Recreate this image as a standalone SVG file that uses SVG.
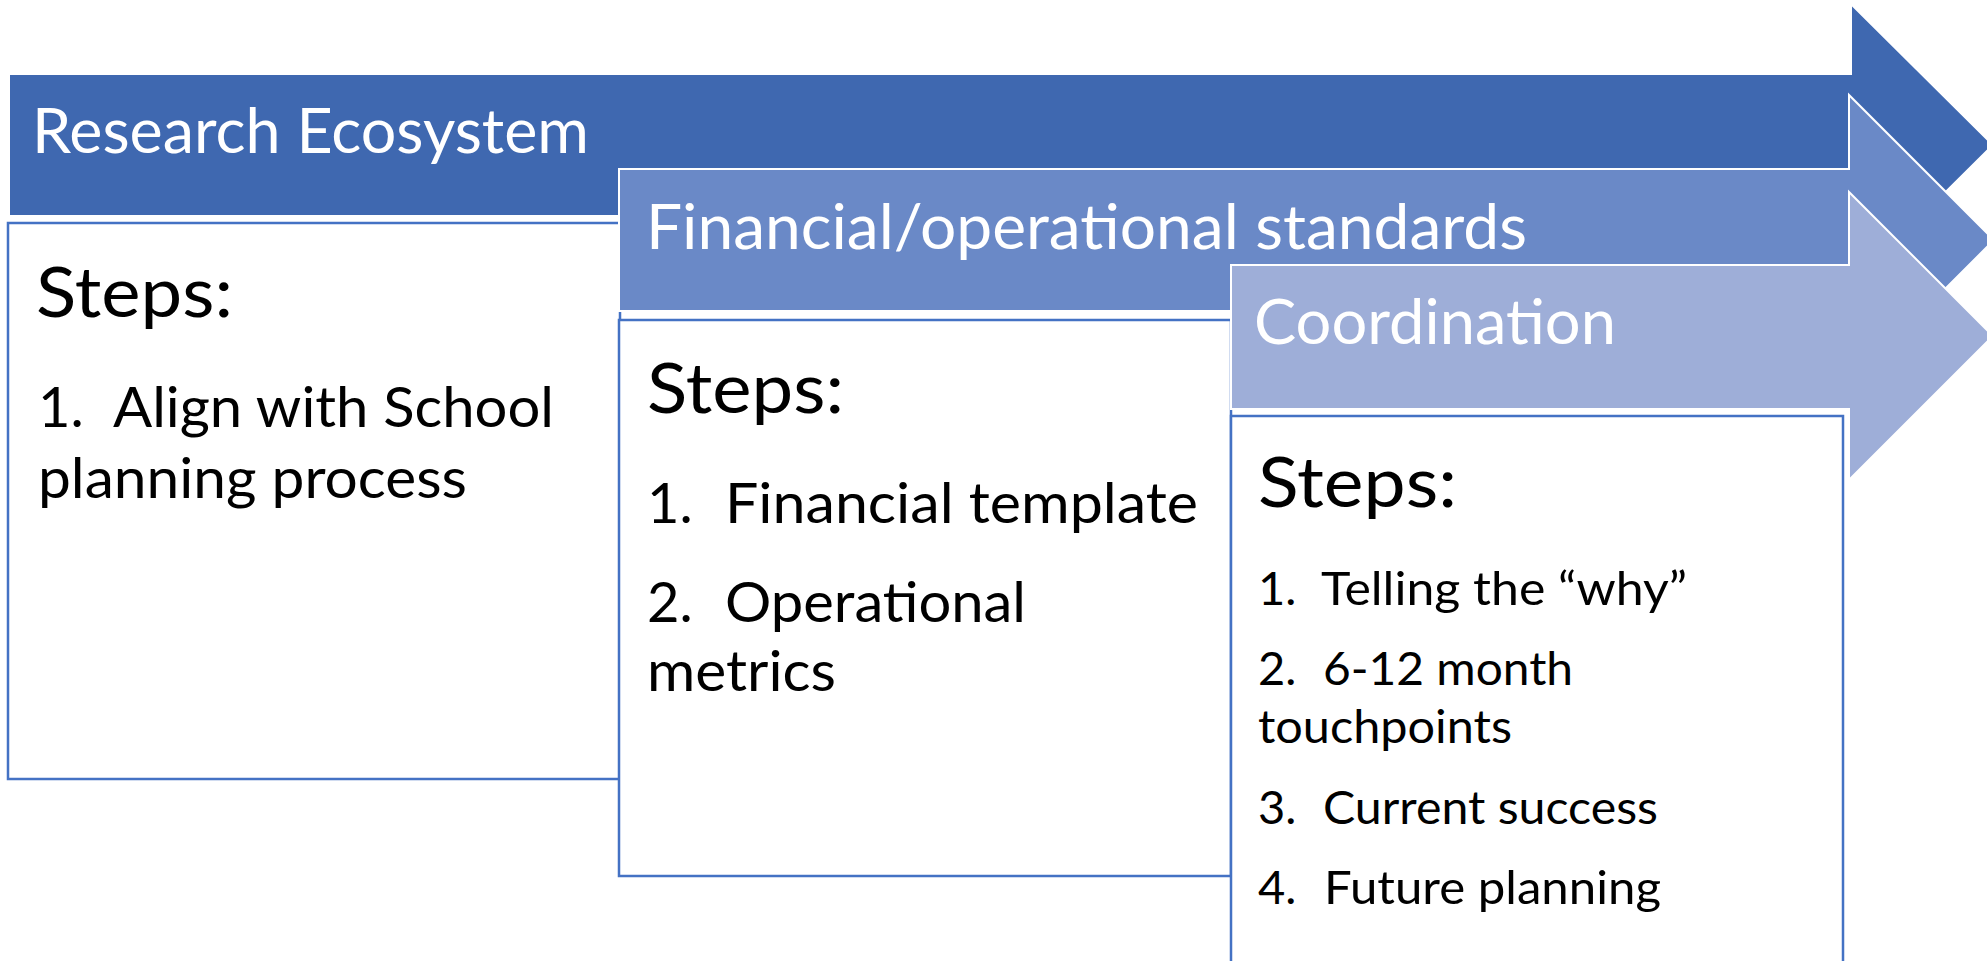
<svg xmlns="http://www.w3.org/2000/svg" width="1987" height="961" viewBox="0 0 1987 961">
<style>
.arrow{stroke:#ffffff;stroke-width:2;stroke-linejoin:miter}
.a1{fill:#3F68B0}
.a2{fill:#6A89C7}
.a3{fill:#9EAED8}
.box{fill:#ffffff;stroke:#4472C4;stroke-width:2.5}
.hdr{font-family:Lato,"Open Sans",sans-serif;fill:#ffffff;font-size:61px}
.steps{font-family:Lato,"Open Sans",sans-serif;fill:#000000;font-size:70px}
.li{font-family:Lato,"Open Sans",sans-serif;fill:#000000;font-size:56px}
.li3{font-family:Lato,"Open Sans",sans-serif;fill:#000000;font-size:47px}
</style>
<rect width="1987" height="961" fill="#ffffff"/>
<g id="node-research">
<polygon class="arrow a1" points="9,74 1851,74 1851,4 1993,145 1851,286 1851,216 9,216"/>
<text class="hdr" x="32" y="153" textLength="557" lengthAdjust="spacingAndGlyphs">Research Ecosystem</text>
</g>
<g id="node-research-steps">
<rect class="box" x="8" y="223" width="612" height="556"/>
<text class="steps" x="36" y="317" textLength="197" lengthAdjust="spacingAndGlyphs">Steps:</text>
<text class="li" x="38" y="427">1.</text>
<text class="li" x="113" y="427" textLength="441" lengthAdjust="spacingAndGlyphs">Align with School</text>
<text class="li" x="38" y="498" textLength="429" lengthAdjust="spacingAndGlyphs">planning process</text>
</g>
<g id="node-financial">
<polygon class="arrow a2" points="619,169 1849,169 1849,95 1994,240 1849,385 1849,311 619,311"/>
<text class="hdr" x="646" y="249" textLength="881" lengthAdjust="spacingAndGlyphs">Financial/operational standards</text>
</g>
<g id="node-financial-steps">
<rect class="box" x="619" y="320" width="612" height="556"/>
<text class="steps" x="647" y="413" textLength="197" lengthAdjust="spacingAndGlyphs">Steps:</text>
<text class="li" x="647" y="523">1.</text>
<text class="li" x="725" y="523" textLength="473" lengthAdjust="spacingAndGlyphs">Financial template</text>
<text class="li" x="647" y="622">2.</text>
<text class="li" x="725" y="622" textLength="301" lengthAdjust="spacingAndGlyphs">Operational</text>
<text class="li" x="647" y="691" textLength="189" lengthAdjust="spacingAndGlyphs">metrics</text>
</g>
<g id="node-coordination">
<polygon class="arrow a3" points="1231,265 1849,265 1849,192 1993,336 1849,480 1849,409 1231,409"/>
<text class="hdr" x="1254" y="344" textLength="362" lengthAdjust="spacingAndGlyphs">Coordination</text>
</g>
<g id="node-coordination-steps">
<rect class="box" x="1231" y="416" width="612" height="600"/>
<text class="steps" x="1258" y="507" textLength="199" lengthAdjust="spacingAndGlyphs">Steps:</text>
<text class="li3" x="1258" y="605">1.</text>
<text class="li3" x="1321" y="605" textLength="366" lengthAdjust="spacingAndGlyphs">Telling the “why”</text>
<text class="li3" x="1258" y="685">2.</text>
<text class="li3" x="1323" y="685" textLength="250" lengthAdjust="spacingAndGlyphs">6-12 month</text>
<text class="li3" x="1258" y="743" textLength="254" lengthAdjust="spacingAndGlyphs">touchpoints</text>
<text class="li3" x="1258" y="824">3.</text>
<text class="li3" x="1323" y="824" textLength="335" lengthAdjust="spacingAndGlyphs">Current success</text>
<text class="li3" x="1258" y="904">4.</text>
<text class="li3" x="1324" y="904" textLength="337" lengthAdjust="spacingAndGlyphs">Future planning</text>
</g>
<g id="connectors"/>
</svg>
